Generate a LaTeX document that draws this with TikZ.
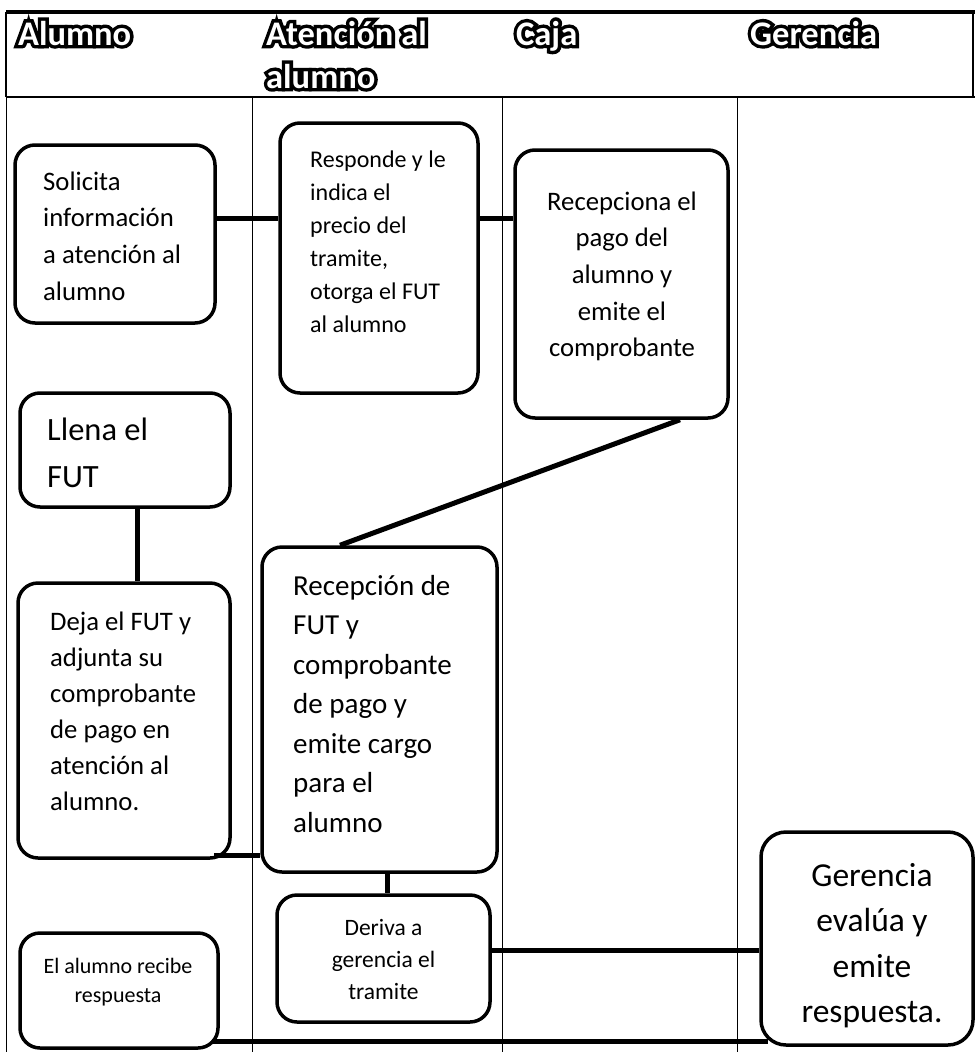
\documentclass[tikz,border=0pt]{standalone}
\usepackage{fontspec}
\setmainfont{Carlito}
\newfontfamily\hbout{Carlito Bold}[FakeBold=20]
\usetikzlibrary{calc}
\newcommand\outl[1]{\leavevmode\rlap{\hbout\color{black}#1}{\color{white}#1}}
\newcommand\fs[2]{\fontsize{#1pt}{#2pt}\selectfont}
\newcommand\st{\rule{0pt}{0.8em}}
\tikzset{
  box/.style={draw, line width=3.5pt, rounded corners=20pt, fill=white, inner sep=0pt},
  txt/.style={inner sep=0pt, anchor=north west, align=left},
  ctxt/.style={inner sep=0pt, anchor=north, align=center},
  conn/.style={line width=5pt},
  lane/.style={line width=1pt},
  hdr/.style={inner sep=0pt, anchor=base west, font=\bfseries\fs{34.5}{43}, align=left}
}
\begin{document}
\begin{tikzpicture}[x=1pt,y=-1pt]
\useasboundingbox (0,0) rectangle (975,1052);
% header frame
\draw[line width=3.5pt] (6,12) -- (975,12);
\draw[line width=2.5pt] (6,12) -- (6,97);
\draw[line width=2.5pt] (973,12) -- (973,97);
\draw[line width=2pt] (6,97) -- (975,97);
% lanes
\draw[lane] (6,97) -- (6,1052);
\draw[lane] (252,97) -- (252,1052);
\draw[lane] (502,97) -- (502,1052);
\draw[lane] (737,97) -- (737,1052);
% header labels
\node[hdr] (h1) at (18,45) {\outl{Alumno}};
\node[hdr] (h2) at (266,88) {\outl{Atención al}\\\outl{alumno}};
\node[hdr] (h3) at (516,45) {\outl{Caja}};
\node[hdr] (h4) at (750,45) {\outl{Gerencia}};
% boxes
\node[box, minimum width=200, minimum height=178] (solicita) at (115,234) {};
\node[box, minimum width=198, minimum height=270] (responde) at (379,258) {};
\node[box, minimum width=213, minimum height=268] (recepciona) at (621.5,284) {};
\node[box, minimum width=210, minimum height=114] (llena) at (125,450) {};
\node[box, minimum width=212, minimum height=275] (deja) at (124,720.5) {};
\node[box, minimum width=235, minimum height=325] (recepcion) at (379.5,709.5) {};
\node[box, minimum width=213, minimum height=127] (deriva) at (383.5,958.5) {};
\node[box, minimum width=198, minimum height=115] (alumno) at (119,990.5) {};
\node[box, minimum width=212, minimum height=213, rounded corners=25pt] (gerencia) at (867,938.5) {};
% texts
\node[txt, font=\fs{26.7}{36.7}] (t1) at (43,168.6) {\st Solicita\\información\\a atención al\\alumno};
\node[txt, font=\fs{24}{33}] (t2) at (310,147.8) {\st Responde y le\\indica el\\precio del\\tramite,\\otorga el FUT\\al alumno};
\node[ctxt, font=\fs{26.7}{36.7}] (t3) at (622,188.6) {\st Recepciona el\\pago del\\alumno y\\emite el\\comprobante};
\node[txt, font=\fs{32.5}{47}] (t4) at (47,414) {\st Llena el\\FUT};
\node[txt, font=\fs{26.7}{36}] (t5) at (50,608.6) {\st Deja el FUT y\\adjunta su\\comprobante\\de pago en\\atención al\\alumno.};
\node[txt, font=\fs{29}{39.5}] (t6) at (293,571.8) {\st Recepción de\\FUT y\\comprobante\\de pago y\\emite cargo\\para el\\alumno};
\node[ctxt, font=\fs{23.5}{32}] (t7) at (383.5,916) {\st Deriva a\\gerencia el\\tramite};
\node[ctxt, font=\fs{22}{29}] (t8) at (118,955.4) {\st El alumno recibe\\respuesta};
\node[ctxt, font=\fs{33.5}{45.5}] (t9) at (872,859) {\st Gerencia\\evalúa y\\emite\\respuesta.};
% connector levels
\coordinate (ya) at (0,218);
\coordinate (yb) at (0,855);
\coordinate (yc) at (0,950);
\coordinate (yd) at (0,1041);
% connectors
\draw[conn] (solicita.east |- ya) -- (responde.west |- ya);
\draw[conn] (responde.east |- ya) -- (recepciona.west |- ya);
\draw[conn] ([xshift=58.5pt]recepciona.south) -- ([xshift=-39.5pt]recepcion.north);
\draw[conn] ([xshift=12pt]llena.south) -- ([xshift=12pt]llena.south |- deja.north);
\draw[conn] ([xshift=-18pt]deja.east |- yb) -- (recepcion.west |- yb);
\draw[conn] ([xshift=7.5pt]recepcion.south) -- ([xshift=7.5pt]recepcion.south |- deriva.north);
\draw[conn] (deriva.east |- yc) -- (gerencia.west |- yc);
\draw[conn] ([xshift=-8pt]alumno.east |- yd) -- ([xshift=9pt]gerencia.west |- yd);
\end{tikzpicture}
\end{document}
